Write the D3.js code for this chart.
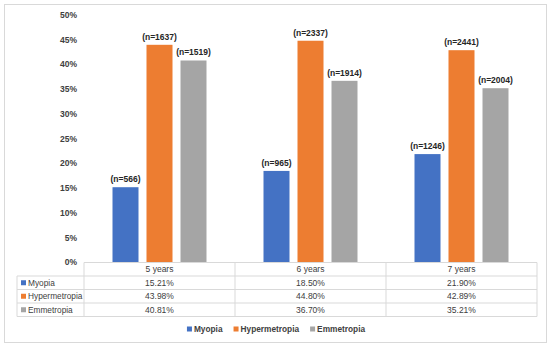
<!DOCTYPE html>
<html><head><meta charset="utf-8">
<script src="https://cdn.jsdelivr.net/npm/d3@7"></script>
<style>body{margin:0;background:#fff}svg{display:block;font-family:"Liberation Sans",Arial,sans-serif}</style>
</head><body><svg id="c" width="550" height="347"></svg>
<script>
const categories = ["5 years", "6 years", "7 years"];
const seriesNames = ["Myopia", "Hypermetropia", "Emmetropia"];
const myopia = [15.21, 18.50, 21.90];
const hypermetropia = [43.98, 44.80, 42.89];
const emmetropia = [40.81, 36.70, 35.21];
const myopiaN = [566, 965, 1246];
const hypermetropiaN = [1637, 2337, 2441];
const emmetropiaN = [1519, 1914, 2004];
const yTicks = [0, 5, 10, 15, 20, 25, 30, 35, 40, 45, 50];
const colors = ["#4472C4", "#ED7D31", "#A5A5A5"];

const values = [myopia, hypermetropia, emmetropia];
const counts = [myopiaN, hypermetropiaN, emmetropiaN];

const svg = d3.select("#c");
svg.append("rect").attr("x", 4.5).attr("y", 4.5).attr("width", 542).attr("height", 338)
  .attr("fill", "#fff").attr("stroke", "#d9d9d9");

const pLeft = 84, pRight = 537, pTop = 15, pBottom = 262.5;
const x = d3.scaleBand().domain(categories).range([pLeft, pRight]).padding(0);
const y = d3.scaleLinear().domain([0, 50]).range([pBottom, pTop]);
const barW = 26, gap = 8;

// y axis labels
svg.append("g").selectAll("text").data(yTicks).join("text")
  .attr("x", 77).attr("y", d => y(d)).attr("dy", "0.35em")
  .attr("text-anchor", "end").attr("font-size", 8.5).attr("font-weight", "bold")
  .attr("fill", "#404040").text(d => d + "%");

// bars
categories.forEach((c, ci) => {
  const cx = x(c) + x.bandwidth() / 2;
  seriesNames.forEach((s, si) => {
    const bx = cx + (si - 1) * (barW + gap) - barW / 2;
    const v = values[si][ci];
    svg.append("rect").attr("x", bx).attr("y", y(v)).attr("width", barW)
      .attr("height", y(0) - y(v)).attr("fill", colors[si]);
    svg.append("text").attr("x", bx + barW / 2).attr("y", y(v) - 5)
      .attr("text-anchor", "middle").attr("font-size", 8.5).attr("font-weight", "bold")
      .attr("fill", "#262626").text("(n=" + counts[si][ci] + ")");
  });
});

// table
const tLeft = 17, rowH = 13.5;
const tTop = pBottom;
const lineC = "#d9d9d9";
const g = svg.append("g").attr("stroke", lineC).attr("stroke-width", 1);
g.append("line").attr("x1", pLeft).attr("x2", pRight).attr("y1", tTop).attr("y2", tTop);
for (let r = 1; r <= 4; r++) {
  g.append("line").attr("x1", tLeft).attr("x2", pRight)
    .attr("y1", tTop + r * rowH).attr("y2", tTop + r * rowH);
}
g.append("line").attr("x1", tLeft).attr("x2", tLeft).attr("y1", tTop + rowH).attr("y2", tTop + 4 * rowH);
[pLeft, ...categories.map(c => x(c) + x.bandwidth())].forEach(xx => {
  g.append("line").attr("x1", xx).attr("x2", xx).attr("y1", tTop).attr("y2", tTop + 4 * rowH);
});
categories.forEach(c => {
  svg.append("text").attr("x", x(c) + x.bandwidth() / 2).attr("y", tTop + rowH / 2)
    .attr("dy", "0.35em").attr("text-anchor", "middle").attr("font-size", 8.5)
    .attr("fill", "#404040").text(c);
});
seriesNames.forEach((s, si) => {
  const ry = tTop + (si + 1) * rowH + rowH / 2;
  svg.append("rect").attr("x", 21).attr("y", ry - 2.5).attr("width", 5).attr("height", 5).attr("fill", colors[si]);
  svg.append("text").attr("x", 28).attr("y", ry).attr("dy", "0.35em").attr("font-size", 8.3)
    .attr("fill", "#404040").text(s);
  categories.forEach((c, ci) => {
    svg.append("text").attr("x", x(c) + x.bandwidth() / 2).attr("y", ry).attr("dy", "0.35em")
      .attr("text-anchor", "middle").attr("font-size", 8.5).attr("fill", "#404040")
      .text(values[si][ci].toFixed(2) + "%");
  });
});

// legend
const leg = svg.append("g");
let lx = 0;
seriesNames.forEach((s, si) => {
  const it = leg.append("g").attr("transform", `translate(${lx},0)`);
  it.append("rect").attr("x", 0).attr("y", 326.5).attr("width", 5).attr("height", 5).attr("fill", colors[si]);
  const t = it.append("text").attr("x", 7).attr("y", 329).attr("dy", "0.35em")
    .attr("font-size", 8.3).attr("font-weight", "bold").attr("fill", "#404040").text(s);
  lx += 7 + t.node().getComputedTextLength() + 11;
});
const legW = lx - 11;
leg.attr("transform", `translate(${276 - legW / 2},0)`);
</script></body></html>
